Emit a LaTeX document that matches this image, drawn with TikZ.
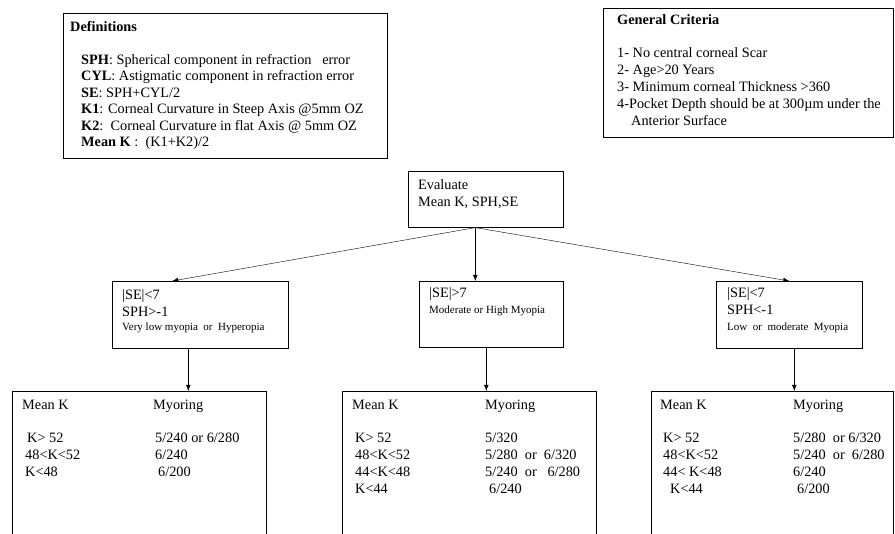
\documentclass[tikz,border=0pt]{standalone}
\usepackage{fontspec}
\setmainfont{Liberation Serif}
\usetikzlibrary{arrows.meta,positioning}

\begin{document}
\begin{tikzpicture}[x=1pt,y=-1pt]
	\tikzstyle{box}=[draw, rectangle, semithick, inner sep=0pt, anchor=north west]
	\tikzstyle{txt}=[anchor=base west, inner sep=0pt, font=\fontsize{14.3}{17}\selectfont]
	\tikzstyle{note}=[anchor=base west, inner sep=0pt, font=\fontsize{11}{12}\selectfont]
	\tikzstyle{arr}=[-{Latex[length=6pt,width=4.5pt]}, thin]

	\useasboundingbox (0,0) rectangle (895,534);

	% boxes
	\node[box, minimum width=324pt, minimum height=145pt] (defs) at (63,13) {};
	\node[box, minimum width=290pt, minimum height=129pt] (crit) at (603,8) {};
	\node[box, minimum width=155pt, minimum height=56pt] (eval) at (408,171) {};
	\node[box, minimum width=176pt, minimum height=67pt] (low) at (112,281) {};
	\node[box, minimum width=144pt, minimum height=66pt] (high) at (419,281) {};
	\node[box, minimum width=146pt, minimum height=67pt] (mod) at (716,281) {};
	\node[box, minimum width=254pt, minimum height=150pt] (lowring) at (12,391) {};
	\node[box, minimum width=254pt, minimum height=150pt] (highring) at (342,391) {};
	\node[box, minimum width=242pt, minimum height=150pt] (modring) at (651,391) {};

	% texts
	\node[txt, font=\fontsize{14.3}{16.5}\selectfont] (defstext) at ([shift={(7,18.5)}]defs.north west)
{\begin{tabular}[t]{@{}l@{}}
\textbf{Definitions}\\[16.5pt]
\hspace*{11pt}\textbf{SPH}: Spherical component in refraction\ \ \ error\\
\hspace*{11pt}\textbf{CYL}: Astigmatic component in refraction error\\
\hspace*{11pt}\textbf{SE}: SPH+CYL/2\\
\hspace*{11pt}\textbf{K1}: Corneal Curvature in Steep Axis @5mm OZ\\
\hspace*{11pt}\textbf{K2}:\ \ Corneal Curvature in flat Axis @ 5mm OZ\\
\hspace*{11pt}\textbf{Mean K} :\ \ (K1+K2)/2
\end{tabular}};
	\node[txt] (crittext) at ([shift={(14,16.5)}]crit.north west)
{\begin{tabular}[t]{@{}l@{}}
\textbf{General Criteria}\\[16pt]
1- No central corneal Scar\\
2- Age>20 Years\\
3- Minimum corneal Thickness >360\\
4-Pocket Depth should be at 300µm under the\\
\hspace*{14pt}Anterior Surface
\end{tabular}};
	\node[txt] (evaltext) at ([shift={(10,18.5)}]eval.north west)
{\begin{tabular}[t]{@{}l@{}}Evaluate\\Mean K, SPH,SE\end{tabular}};

	\node[txt] (lowtext) at ([shift={(10,18.5)}]low.north west)
{\begin{tabular}[t]{@{}l@{}}|SE|<7\\SPH>-1\end{tabular}};
	\node[note] (lownote) at ([shift={(10,49.5)}]low.north west) {Very low myopia\ \ or\ \ Hyperopia};
	\node[txt] (hightext) at ([shift={(10,16.5)}]high.north west) {|SE|>7};
	\node[note] (highnote) at ([shift={(10,32.5)}]high.north west) {Moderate or High Myopia};
	\node[txt] (modtext) at ([shift={(11,16.5)}]mod.north west)
{\begin{tabular}[t]{@{}l@{}}|SE|<7\\SPH<-1\end{tabular}};
	\node[note] (modnote) at ([shift={(11,49.5)}]mod.north west) {Low\ \ or\ \ moderate\ \ Myopia};

	\node[txt] (lowtab) at ([shift={(10,18.5)}]lowring.north west)
{\begin{tabular}[t]{@{}p{131pt}@{}l@{}}
Mean K & Myoring\\[16pt]
\hspace*{5pt}K> 52 & \hspace*{2pt}5/240 or 6/280\\
\hspace*{3pt}48<K<52 & \hspace*{2pt}6/240\\
\hspace*{3pt}K<48 & \hspace*{5pt}6/200
\end{tabular}};
	\node[txt] (hightab) at ([shift={(10,18.5)}]highring.north west)
{\begin{tabular}[t]{@{}p{133pt}@{}l@{}}
Mean K & Myoring\\[16pt]
\hspace*{3pt}K> 52 & 5/320\\
\hspace*{3pt}48<K<52 & 5/280\ \ or\ \ 6/320\\
\hspace*{3pt}44<K<48 & 5/240\ \ or\ \ \ 6/280\\
\hspace*{3pt}K<44 & \hspace*{4pt}6/240
\end{tabular}};
	\node[txt] (modtab) at ([shift={(9,18.5)}]modring.north west)
{\begin{tabular}[t]{@{}p{133pt}@{}l@{}}
Mean K & Myoring\\[16pt]
\hspace*{3pt}K> 52 & 5/280\ \ or 6/320\\
\hspace*{3pt}48<K<52 & 5/240\ \ or\ \ 6/280\\
\hspace*{3pt}44< K<48 & 6/240\\
\hspace*{10pt}K<44 & \hspace*{4pt}6/200
\end{tabular}};

	% connectors
	\draw[arr] ([xshift=-10.5pt]eval.south) -- ([xshift=-28pt]low.north);
	\draw[arr] ([xshift=-10.5pt]eval.south) -- ([xshift=-10.5pt]eval.south |- high.north);
	\draw[arr] ([xshift=-10.5pt]eval.south) -- (mod.north);
	\draw[arr] ([xshift=-12pt]low.south) -- ([xshift=-12pt]low.south |- lowring.north);
	\draw[arr] ([xshift=-5pt]high.south) -- ([xshift=-5pt]high.south |- highring.north);
	\draw[arr] ([xshift=5pt]mod.south) -- ([xshift=5pt]mod.south |- modring.north);
\end{tikzpicture}
\end{document}
